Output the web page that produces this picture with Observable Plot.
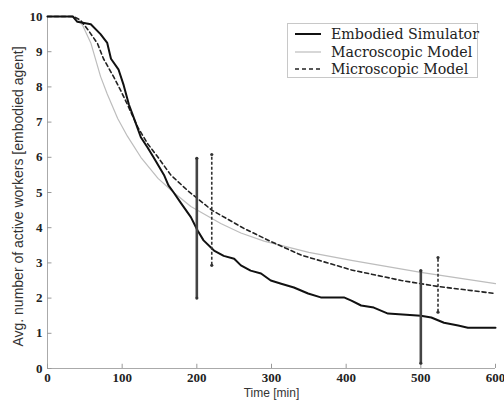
<!DOCTYPE html>
<html>
<head>
<meta charset="utf-8">
<script src="https://cdn.jsdelivr.net/npm/d3@7"></script>
<script src="https://cdn.jsdelivr.net/npm/@observablehq/plot@0.6"></script>
<style>
  html, body { margin: 0; padding: 0; background: #fff; }
  #wrap { position: relative; width: 504px; height: 402px; }
  #legend { position: absolute; left: 287px; top: 23px; width: 191px; height: 55px;
    border: 1px solid #c8c8c8; background: #fff; box-sizing: border-box;
    font-family: "DejaVu Serif", "Liberation Serif", serif; font-size: 14.2px; color: #222; }
  .row { position: absolute; left: 0; height: 18px; display: flex; align-items: center; white-space: nowrap; }
  .row svg { margin-left: 7px; margin-right: 10px; }
</style>
</head>
<body>
<div id="wrap"></div>
<script>
const embodiedT = [0, 34, 40, 58, 71, 80, 85, 95, 102, 109, 116, 125, 134, 142, 156, 162, 169, 179, 192, 201, 209, 223, 236, 250, 259, 272, 286, 299, 313, 330, 349, 366, 397, 407, 420, 437, 456, 500, 514, 531, 550, 563, 600];
const embodiedY = [10, 10, 9.85, 9.78, 9.5, 9.25, 8.8, 8.5, 8.05, 7.5, 7.1, 6.57, 6.28, 6.0, 5.5, 5.2, 5.0, 4.69, 4.3, 3.92, 3.64, 3.35, 3.2, 3.12, 2.93, 2.78, 2.7, 2.5, 2.41, 2.3, 2.13, 2.02, 2.02, 1.93, 1.79, 1.73, 1.56, 1.5, 1.45, 1.3, 1.22, 1.16, 1.16];

const macroT = [0, 30, 40, 47, 58, 71, 80, 94, 107, 125, 148, 169, 192, 232, 259, 290, 350, 407, 500, 600];
const macroY = [10, 10, 9.95, 9.75, 9.25, 8.3, 7.8, 7.1, 6.6, 6.0, 5.4, 5.0, 4.6, 4.12, 3.85, 3.62, 3.3, 3.07, 2.73, 2.41];

const microT = [0, 35, 44, 55, 67, 75, 89, 98, 107, 121, 134, 148, 165, 188, 220, 263, 300, 340, 407, 474, 523, 600];
const microY = [10, 10, 9.9, 9.6, 9.23, 8.8, 8.27, 7.9, 7.5, 6.85, 6.39, 6.0, 5.5, 5.05, 4.5, 3.98, 3.6, 3.22, 2.8, 2.5, 2.33, 2.13];

const errX = [200, 220, 500, 523];
const errLo = [2.0, 2.93, 0.15, 1.6];
const errHi = [5.97, 6.08, 2.78, 3.15];
const errKind = ["Embodied Simulator", "Microscopic Model", "Embodied Simulator", "Microscopic Model"];

const xTicks = [0, 100, 200, 300, 400, 500, 600];
const yTicks = [0, 1, 2, 3, 4, 5, 6, 7, 8, 9, 10];

const seriesNames = ["Embodied Simulator", "Macroscopic Model", "Microscopic Model"];
const yLabel = "Avg. number of active workers [embodied agent]";
const xLabel = "Time [min]";

const embodied = embodiedT.map((t, i) => ({t, v: embodiedY[i]}));
const macro = macroT.map((t, i) => ({t, v: macroY[i]}));
const micro = microT.map((t, i) => ({t, v: microY[i]}));
const errs = errX.map((x, i) => ({x, lo: errLo[i], hi: errHi[i], kind: errKind[i]}));
const errSolid = errs.filter(d => d.kind === seriesNames[0]);
const errDash = errs.filter(d => d.kind === seriesNames[2]);
const errEnds = errs.flatMap(d => [{x: d.x, y: d.lo, kind: d.kind}, {x: d.x, y: d.hi, kind: d.kind}]);

const serif = "Liberation Serif, DejaVu Serif, serif";
const sans = "Liberation Sans, Arial, sans-serif";

const chart = Plot.plot({
  width: 504,
  height: 402,
  marginLeft: 47,
  marginRight: 9,
  marginTop: 16,
  marginBottom: 34,
  x: {domain: [0, 600]},
  y: {domain: [0, 10]},
  marks: [
    Plot.ruleX([0], {stroke: "#aaa", strokeWidth: 1}),
    Plot.ruleY([0], {stroke: "#aaa", strokeWidth: 1}),
    Plot.ruleX(xTicks, {y1: 0, y2: 0.12, stroke: "#999"}),
    Plot.ruleY(yTicks, {x1: 0, x2: 6, stroke: "#999"}),
    Plot.axisX({ticks: xTicks, tickSize: 0, tickPadding: 4, label: null,
      fontFamily: serif, fontSize: 13, fontWeight: "bold", color: "#222", tickFormat: d => String(d)}),
    Plot.axisY({ticks: yTicks, tickSize: 0, tickPadding: 5, label: null,
      fontFamily: serif, fontSize: 13, fontWeight: "bold", color: "#222", tickFormat: d => String(d)}),
    Plot.text([yLabel], {frameAnchor: "left", textAnchor: "middle", lineAnchor: "middle", rotate: -90, dx: -29, dy: 4, fontFamily: sans, fontSize: 14, fill: "#333"}),
    Plot.text([xLabel], {frameAnchor: "bottom", textAnchor: "middle", lineAnchor: "middle", dy: 25, fontFamily: sans, fontSize: 12, fill: "#333"}),
    Plot.line(macro, {x: "t", y: "v", stroke: "#bdbdbd", strokeWidth: 1.2}),
    Plot.line(micro, {x: "t", y: "v", stroke: "#222", strokeWidth: 1.6, strokeDasharray: "4,3"}),
    Plot.line(embodied, {x: "t", y: "v", stroke: "#111", strokeWidth: 2}),
    Plot.ruleX(errSolid, {x: "x", y1: "lo", y2: "hi", stroke: "#444", strokeWidth: 2.6}),
    Plot.ruleX(errDash, {x: "x", y1: "lo", y2: "hi", stroke: "#333", strokeWidth: 1.6, strokeDasharray: "3,2"}),
    Plot.dot(errEnds, {x: "x", y: "y", r: 1.6, fill: "#333", stroke: "none"})
  ]
});

const wrap = document.getElementById("wrap");
wrap.appendChild(chart);

const legend = document.createElement("div");
legend.id = "legend";
const styles = [
  {stroke: "#111", width: 2, dash: null},
  {stroke: "#bdbdbd", width: 1.2, dash: null},
  {stroke: "#222", width: 1.6, dash: "4,3"}
];
seriesNames.forEach((name, i) => {
  const row = document.createElement("div");
  row.className = "row";
  row.style.top = (1 + i * 17.5) + "px";
  const s = styles[i];
  row.innerHTML = `<svg width="26" height="6"><line x1="0" y1="3" x2="26" y2="3" stroke="${s.stroke}" stroke-width="${s.width}" ${s.dash ? `stroke-dasharray="${s.dash}"` : ""}/></svg><span>${name}</span>`;
  legend.appendChild(row);
});
wrap.appendChild(legend);
</script>
</body>
</html>
